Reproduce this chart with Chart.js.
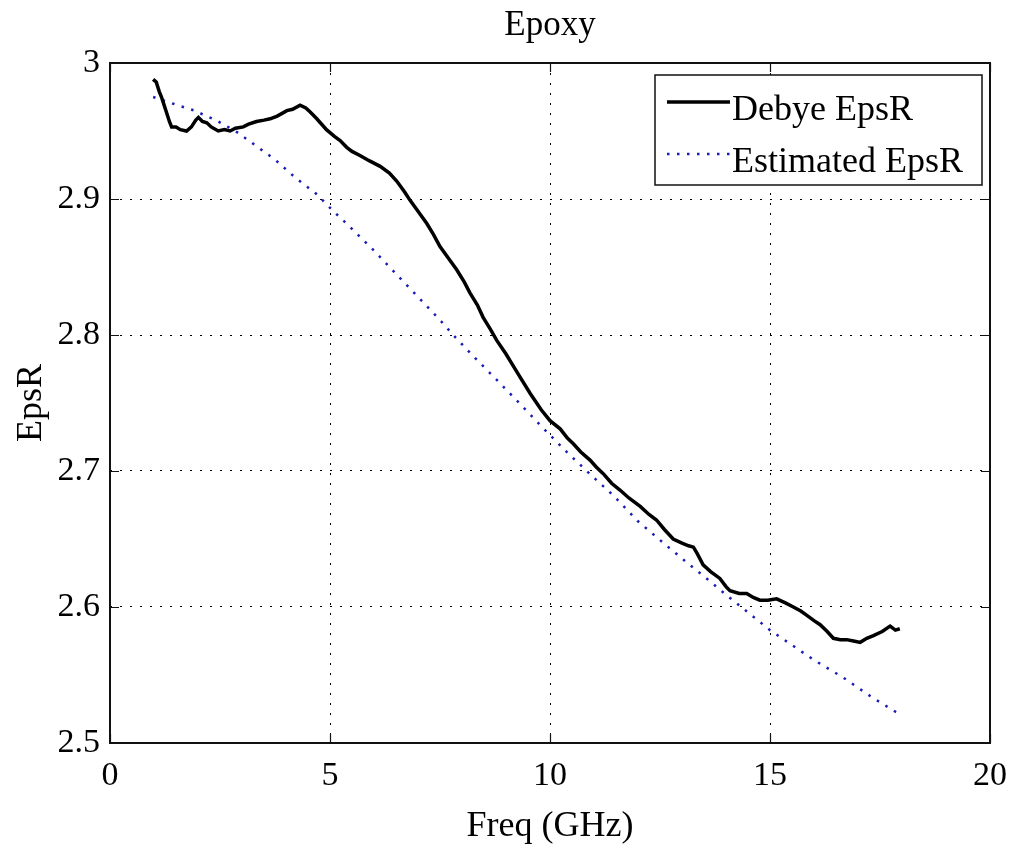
<!DOCTYPE html>
<html>
<head>
<meta charset="utf-8">
<title>Epoxy</title>
<script src="https://cdn.jsdelivr.net/npm/chart.js@4.4.1/dist/chart.umd.min.js"></script>
<style>
  html, body { margin: 0; padding: 0; background: #fff; }
</style>
</head>
<body>
<canvas id="myChart" width="1011" height="852"></canvas>
<script>
// Debye EpsR (measured, solid black)
const debyeFreq = [0.98, 1.05, 1.12, 1.17, 1.23, 1.29, 1.35, 1.40, 1.50, 1.60, 1.74, 1.85, 1.95, 2.01, 2.10, 2.20, 2.30, 2.46, 2.60, 2.73,
  2.85, 3.03, 3.15, 3.33, 3.50, 3.64, 3.80, 4.02, 4.15, 4.32, 4.45, 4.55, 4.70, 4.92, 5.10, 5.23, 5.38, 5.50, 5.68, 5.90,
  6.14, 6.35, 6.52, 6.70, 6.82, 7.00, 7.20, 7.35, 7.50, 7.70, 7.88, 8.05, 8.18, 8.35, 8.48, 8.65, 8.79, 9.00, 9.15, 9.32,
  9.55, 9.80, 10.00, 10.23, 10.40, 10.53, 10.70, 10.91, 11.05, 11.21, 11.40, 11.59, 11.80, 12.05, 12.25, 12.42, 12.60, 12.80, 13.00, 13.15,
  13.26, 13.35, 13.48, 13.65, 13.86, 14.00, 14.09, 14.30, 14.47, 14.62, 14.77, 14.95, 15.15, 15.35, 15.53, 15.70, 15.83, 16.00, 16.14, 16.30,
  16.44, 16.60, 16.74, 16.90, 17.05, 17.20, 17.35, 17.55, 17.73, 17.85, 17.95];
const debyeEps = [2.988, 2.986, 2.979, 2.975, 2.969, 2.963, 2.957, 2.953, 2.953, 2.951, 2.950, 2.953, 2.958, 2.960, 2.957, 2.956, 2.953, 2.950, 2.951, 2.950,
  2.952, 2.953, 2.955, 2.957, 2.958, 2.959, 2.961, 2.965, 2.966, 2.969, 2.967, 2.964, 2.959, 2.951, 2.946, 2.943, 2.938, 2.935, 2.932, 2.928,
  2.924, 2.919, 2.913, 2.905, 2.899, 2.891, 2.882, 2.874, 2.865, 2.856, 2.848, 2.839, 2.831, 2.822, 2.813, 2.804, 2.796, 2.786, 2.778, 2.769,
  2.757, 2.745, 2.737, 2.731, 2.724, 2.720, 2.714, 2.708, 2.703, 2.698, 2.691, 2.686, 2.680, 2.674, 2.668, 2.664, 2.657, 2.650, 2.647, 2.645,
  2.644, 2.639, 2.631, 2.626, 2.621, 2.615, 2.612, 2.610, 2.610, 2.607, 2.605, 2.605, 2.606, 2.603, 2.600, 2.597, 2.594, 2.590, 2.587, 2.582,
  2.577, 2.576, 2.576, 2.575, 2.574, 2.577, 2.579, 2.582, 2.586, 2.583, 2.584];

// Estimated EpsR (dotted blue)
const estFreq = [0.98, 1.44, 1.92, 2.40, 2.85, 3.28, 3.75, 4.20, 4.68, 5.08, 5.50, 6.00, 6.44, 7.00, 7.50, 7.80, 8.30, 8.79,
  9.30, 9.80, 10.38, 10.90, 11.44, 12.00, 12.69, 13.10, 13.52, 14.00, 14.50, 15.00, 15.50, 16.00, 16.67, 17.30, 17.90];
const estEps = [2.975, 2.970, 2.965, 2.958, 2.950, 2.940, 2.929, 2.916, 2.904, 2.891, 2.878, 2.862, 2.847, 2.828, 2.811, 2.800, 2.783, 2.767,
  2.750, 2.733, 2.714, 2.698, 2.682, 2.663, 2.644, 2.633, 2.622, 2.609, 2.596, 2.583, 2.572, 2.561, 2.548, 2.534, 2.522];

const seriesNames = ["Debye EpsR", "Estimated EpsR"];
const xTicks = [0, 5, 10, 15, 20];
const xTickLabels = ["0", "5", "10", "15", "20"];
const yTicks = [2.5, 2.6, 2.7, 2.8, 2.9, 3];
const yTickLabels = ["2.5", "2.6", "2.7", "2.8", "2.9", "3"];

const serif = "'Liberation Serif', 'Times New Roman', serif";

function toPoints(xs, ys) {
  return xs.map((x, i) => ({ x: x, y: ys[i] }));
}

// box round the plot with inward ticks, then the legend box in the top right corner
const frameLegend = {
  id: "frameLegend",
  afterDatasetsDraw(chart) {
    const ctx = chart.ctx;
    const a = chart.chartArea;
    const xs = chart.scales.x;
    const ys = chart.scales.y;
    ctx.save();
    ctx.strokeStyle = "#111";
    ctx.lineWidth = 2;
    ctx.setLineDash([]);
    ctx.strokeRect(a.left, a.top, a.right - a.left, a.bottom - a.top);
    ctx.lineWidth = 1.2;
    ctx.beginPath();
    xTicks.forEach(v => {
      const p = Math.round(xs.getPixelForValue(v)) + 0.5;
      ctx.moveTo(p, a.bottom); ctx.lineTo(p, a.bottom - 9);
      ctx.moveTo(p, a.top); ctx.lineTo(p, a.top + 9);
    });
    yTicks.forEach(v => {
      const p = Math.round(ys.getPixelForValue(v)) + 0.5;
      ctx.moveTo(a.left, p); ctx.lineTo(a.left + 9, p);
      ctx.moveTo(a.right, p); ctx.lineTo(a.right - 9, p);
    });
    ctx.stroke();

    // legend
    const bx = a.right - 335, by = a.top + 12, bw = 327, bh = 110;
    ctx.fillStyle = "#fff";
    ctx.fillRect(bx, by, bw, bh);
    ctx.strokeStyle = "#111";
    ctx.lineWidth = 1.5;
    ctx.strokeRect(bx, by, bw, bh);
    ctx.font = "36px " + serif;
    ctx.textBaseline = "middle";
    ctx.textAlign = "left";
    chart.data.datasets.forEach((ds, i) => {
      const ly = by + 27 + i * 52;
      ctx.strokeStyle = ds.borderColor;
      ctx.lineWidth = ds.borderWidth;
      ctx.setLineDash(ds.borderDash || []);
      ctx.beginPath();
      ctx.moveTo(bx + 12, ly);
      ctx.lineTo(bx + 75, ly);
      ctx.stroke();
      ctx.setLineDash([]);
      ctx.fillStyle = "#000";
      ctx.fillText(ds.label, bx + 77, ly + 9);
    });
    ctx.restore();
  }
};

const ctx = document.getElementById("myChart");
const myChart = new Chart(ctx, {
  type: "scatter",
  data: {
    datasets: [
      {
        label: seriesNames[0],
        data: toPoints(debyeFreq, debyeEps),
        showLine: true,
        borderColor: "#000000",
        borderWidth: 3.5,
        pointRadius: 0,
        tension: 0
      },
      {
        label: seriesNames[1],
        data: toPoints(estFreq, estEps),
        showLine: true,
        borderColor: "#1c1cb4",
        borderWidth: 2.5,
        borderDash: [2.5, 7.5],
        pointRadius: 0,
        tension: 0
      }
    ]
  },
  plugins: [frameLegend],
  options: {
    responsive: false,
    animation: false,
    devicePixelRatio: 1,
    layout: { padding: { left: 0, right: 21, top: 0, bottom: 0 } },
    plugins: {
      legend: { display: false },
      tooltip: { enabled: false },
      title: {
        display: true,
        fullSize: false,
        text: "Epoxy",
        color: "#000",
        font: { family: serif, size: 35, weight: "normal" },
        padding: { top: 5, bottom: 16 }
      }
    },
    scales: {
      x: {
        type: "linear",
        min: 0,
        max: 20,
        afterBuildTicks: (scale) => { scale.ticks = xTicks.map(v => ({ value: v })); },
        afterFit: (scale) => { scale.height = 109; scale.paddingLeft = 0; scale.paddingRight = 0; },
        ticks: {
          color: "#000",
          padding: 13,
          maxRotation: 0,
          font: { family: serif, size: 34 },
          callback: (v) => { const i = xTicks.indexOf(v); return i >= 0 ? xTickLabels[i] : ""; }
        },
        grid: { color: "#000", lineWidth: 1, drawTicks: false },
        border: { display: false, dash: [2, 8] },
        title: {
          display: true,
          text: "Freq (GHz)",
          color: "#000",
          font: { family: serif, size: 36 },
          padding: { top: 0, bottom: 4 }
        }
      },
      y: {
        type: "linear",
        min: 2.5,
        max: 3,
        afterBuildTicks: (scale) => { scale.ticks = yTicks.map(v => ({ value: v })); },
        afterFit: (scale) => { scale.width = 110; },
        ticks: {
          color: "#000",
          padding: 10,
          font: { family: serif, size: 34 },
          callback: (v) => { const i = yTicks.indexOf(+(+v).toFixed(1)); return i >= 0 ? yTickLabels[i] : ""; }
        },
        grid: { color: "#000", lineWidth: 1, drawTicks: false },
        border: { display: false, dash: [2, 8] },
        title: {
          display: true,
          text: "EpsR",
          color: "#000",
          font: { family: serif, size: 36 },
          padding: { top: 10, bottom: 0 }
        }
      }
    }
  }
});
</script>
</body>
</html>
